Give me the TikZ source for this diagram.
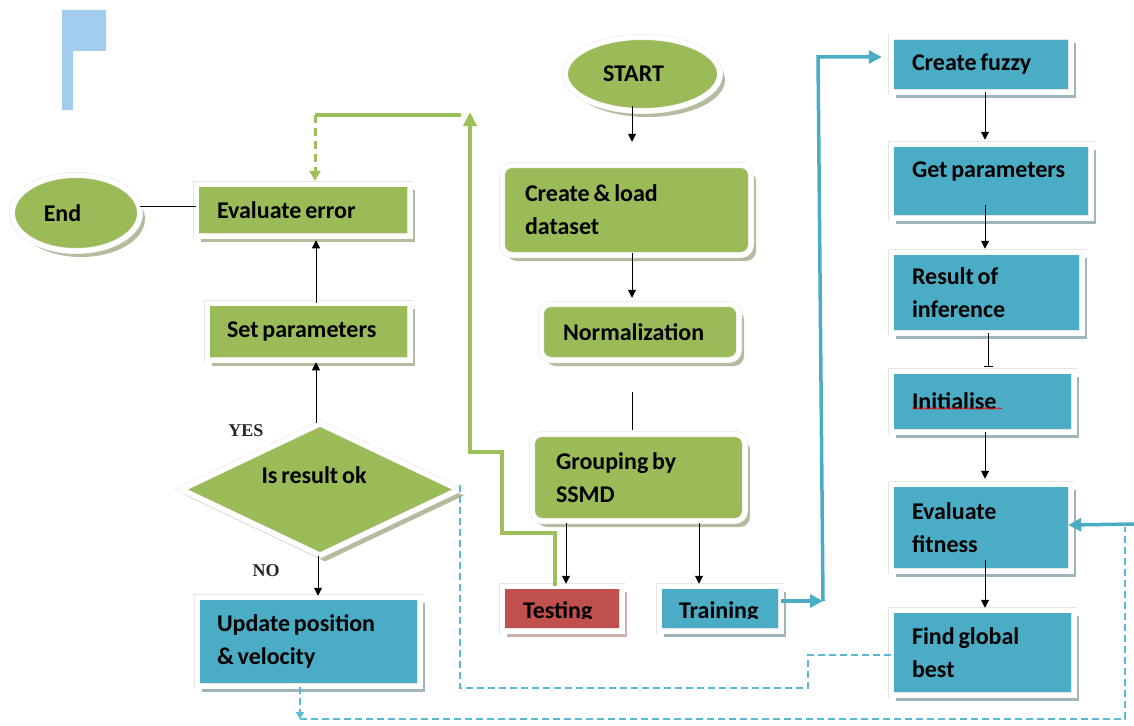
\documentclass[tikz,border=0pt]{standalone}
\usepackage{fontspec}
\setmainfont{Carlito}[WordSpace=0.7]
\newfontfamily\yesfont{Liberation Serif}
\usepackage{trimclip}
\usetikzlibrary{shapes.geometric,arrows.meta,shadows,calc,decorations.pathmorphing}
\definecolor{gfill}{HTML}{9BBB59}
\definecolor{bfill}{HTML}{4BACC6}
\definecolor{rfill}{HTML}{C0504D}
\definecolor{gshad}{HTML}{B3BC9E}
\definecolor{bshad}{HTML}{9FB4BB}
\definecolor{rshad}{HTML}{D2AFAF}
\definecolor{lblue}{HTML}{A3CDEF}
\definecolor{dblue}{HTML}{5BB9D6}
\definecolor{gline}{HTML}{9DC05A}
\begin{document}
\begin{tikzpicture}[x=1pt,y=-1pt,
  box/.style={draw=black!10, double=white, double distance=5pt, line width=0.5pt,
    inner ysep=0pt, align=flush left, text=black,
    font=\bfseries\fontsize{24}{33}\selectfont},
  gbox/.style={box, fill=gfill, drop shadow={shadow xshift=5pt, shadow yshift=-6pt, fill=gshad, opacity=1}},
  bbox/.style={box, fill=bfill, drop shadow={shadow xshift=5pt, shadow yshift=-6pt, fill=bshad, opacity=1}},
  rbox/.style={box, fill=rfill, drop shadow={shadow xshift=5pt, shadow yshift=-6pt, fill=rshad, opacity=1}},
  rbx/.style={rounded corners=10pt},
  gell/.style={gbox, shape=ellipse, inner sep=0pt},
  arr/.style={draw=black, line width=1pt, -{Triangle[length=8pt,width=8pt]}},
  ln/.style={draw=black, line width=1pt},
  gl/.style={draw=gline, line width=3.5pt},
  gdash/.style={draw=gline, line width=3pt, dash pattern=on 8pt off 5pt, -{Triangle[length=10pt,width=11pt]}},
  bl/.style={draw=bfill, line width=3.5pt},
  bd/.style={draw=dblue, line width=1.6pt, dash pattern=on 7pt off 4pt},
  yn/.style={font=\yesfont\bfseries\fontsize{18}{20}\selectfont, text=black!85, inner sep=0pt}
]
\useasboundingbox (0,0) rectangle (1134,725);

% decorative corner shape
\fill[lblue] (62,10) -- (106,10) -- (106,51) -- (73,51) -- (73,110) -- (62,110) -- cycle;

% left column
\node[gell, minimum width=128pt, minimum height=76pt] (end) at (76,213) {End\kern27pt};
\node[gbox, minimum width=214pt, minimum height=52pt, inner xsep=21pt, text width=172pt] (evalerr) at (303,210) {\mbox{Evaluate error}};
\node[gbox, minimum width=203pt, minimum height=57pt, inner xsep=20pt, text width=163pt] (setp) at (308.5,331.5) {\mbox{Set parameters}};
\node[gbox, shape=diamond, aspect=2.1, minimum width=278pt, minimum height=132pt, inner sep=0pt, align=center] (dec) at (320,489.5) {\raisebox{6pt}[0pt][0pt]{Is result ok}\kern12pt};
\node[bbox, minimum width=223pt, minimum height=89pt, inner xsep=20pt, text width=183pt] (upd) at (308.5,641.5) {\mbox{Update position}\\\mbox{\& velocity}};
\node[yn] (yes) at (246,431) {YES};
\node[yn] (no) at (266,571) {NO};

% middle column
\node[gell, minimum width=155pt, minimum height=74pt] (start) at (642.5,74) {START\kern18pt};
\node[gbox, rbx, minimum width=249pt, minimum height=90pt, inner xsep=23pt, text width=203pt] (create) at (626.5,210) {\mbox{Create \& load}\\dataset};
\node[gbox, rbx, minimum width=198pt, minimum height=56pt, inner xsep=22pt, text width=154pt] (norm) at (640,332) {Normalization};
\node[gbox, rbx, minimum width=213pt, minimum height=87pt, inner xsep=24pt, text width=165pt] (group) at (638.5,477.5) {\mbox{Grouping by}\\SSMD};
\node[rbox, minimum width=120pt, minimum height=45pt, inner xsep=21pt, text width=78pt] (test) at (562,608.5) {\raisebox{-9.5pt}[0pt][0pt]{\clipbox{0pt 3.5pt 0pt 0pt}{Testing}}};
\node[bbox, minimum width=122pt, minimum height=45pt, inner xsep=20pt, text width=82pt] (train) at (720,608.5) {\raisebox{-9.5pt}[0pt][0pt]{\clipbox{0pt 3.5pt 0pt 0pt}{Training}}};

% right column
\node[bbox, minimum width=180pt, minimum height=55pt, inner xsep=21pt, text width=138pt] (fuzzy) at (981,64.5) {\mbox{Create fuzzy}};
\node[bbox, minimum width=200pt, minimum height=74pt, inner xsep=21pt, text width=158pt] (getp) at (991,181) {\raisebox{4pt}[0pt][0pt]{\mbox{Get parameters}}};
\node[bbox, minimum width=191pt, minimum height=81pt, inner xsep=21pt, text width=149pt] (res) at (986.5,292.5) {\mbox{Result of}\\inference};
\node[bbox, minimum width=183pt, minimum height=61pt, inner xsep=21pt, text width=141pt] (init) at (982.5,401.5) {Initialise};
\node[bbox, minimum width=180pt, minimum height=87pt, inner xsep=21pt, text width=138pt] (evalfit) at (981,527.5) {Evaluate\\fitness};
\node[bbox, minimum width=183pt, minimum height=85pt, inner xsep=21pt, text width=141pt] (find) at (982.5,652.5) {\mbox{Find global}\\best};

% spell-check underline
\draw[red, line width=0.6pt, decorate, decoration={snake, amplitude=0.8pt, segment length=3pt}] ($(init.west)+(21,7)$) -- ++(90,0);

% middle connectors
\draw[arr] ($(start.south)+(-10.5,-5)$) -- ($(create.north)+(5.5,-23)$);
\draw[arr] ($(create.south)+(5.5,-2)$) -- ($(norm.north)+(-8,-6)$);
\draw[ln] ($(norm.south)+(-8,32)$) -- ($(group.north)+(-6.5,-4)$);
\draw[arr] ($(group.south)+(-72.5,2)$) -- ($(test.north)+(4,-2)$);
\draw[arr] ($(group.south)+(60.5,2)$) -- ($(train.north)+(-21,-2)$);

% green feedback path
\coordinate (gtop) at (470,112);
\coordinate (gright) at (461,115);
\coordinate (gleft) at (315,115);
\draw[gl, -{Triangle[length=14pt,width=13pt]}] ($(test.north)+(-7,0)$) -- ++(0,-53) -- ++(-53,0) -- ++(0,-81) -- ++(-32,0) -- (gtop);
\draw[gl] (gright) -- (gleft);
\draw[gdash] (gleft) -- ($(evalerr.north)+(12,-3)$);

% blue training path
\coordinate (bc) at (823,601);
\coordinate (bt) at (818,57);
\draw[bl, -{Triangle[length=13pt,width=13pt]}] ($(train.east)+(0,-7.5)$) -- (bc);
\draw[bl, -{Triangle[length=13pt,width=13pt]}] (bc) -- (bt) -- ($(fuzzy.west)+(-9,-7.5)$);

% right column connectors
\draw[arr] ($(fuzzy.south)+(4,0)$) -- ($(getp.north)+(-6,-4)$);
\draw[arr] ($(getp.south)+(-6,-13)$) -- ($(res.north)+(-1.5,-3)$);
\draw[ln, -{Bar[width=9pt]}] ($(res.south)+(1.5,0)$) -- ($(init.north)+(5.5,-4)$);
\draw[arr] ($(init.south)+(2.5,0)$) -- ($(evalfit.north)+(4,-5)$);
\draw[arr] ($(evalfit.south)+(4,-11)$) -- ($(find.north)+(2.5,-2)$);

% dashed loops
\draw[bd] ($(find.west)+(0,2.5)$) -- ++(-83,0) -- ++(0,33) -- ++(-348,0) -- ++(0,-205);
\coordinate (dbl) at (300,719);
\coordinate (dbr) at (1125,719);
\coordinate (dbt) at (1125,527);
\coordinate (rin) at (1134,524);
\draw[bd, -{Triangle[length=7pt,width=8pt]}] ($(upd.south)+(-8.5,1)$) -- (dbl);
\draw[bd] (dbl) -- (dbr) -- (dbt);
\draw[bl, -{Triangle[length=13pt,width=13pt]}] (rin) -- ($(evalfit.east)+(-3,-2.5)$);

% left connectors
\draw[arr] ($(dec.south)+(-2,0)$) -- ($(upd.north)+(9.5,-1)$);
\draw[arr] ($(dec.north)+(-4,0)$) -- ($(setp.south)+(7.5,2)$);
\draw[arr] ($(setp.north)+(7.5,0)$) -- ($(evalerr.south)+(13,4)$);
\draw[ln] ($(end.east)+(0,-7)$) -- ($(evalerr.west)+(0,-4)$);
\end{tikzpicture}
\end{document}
